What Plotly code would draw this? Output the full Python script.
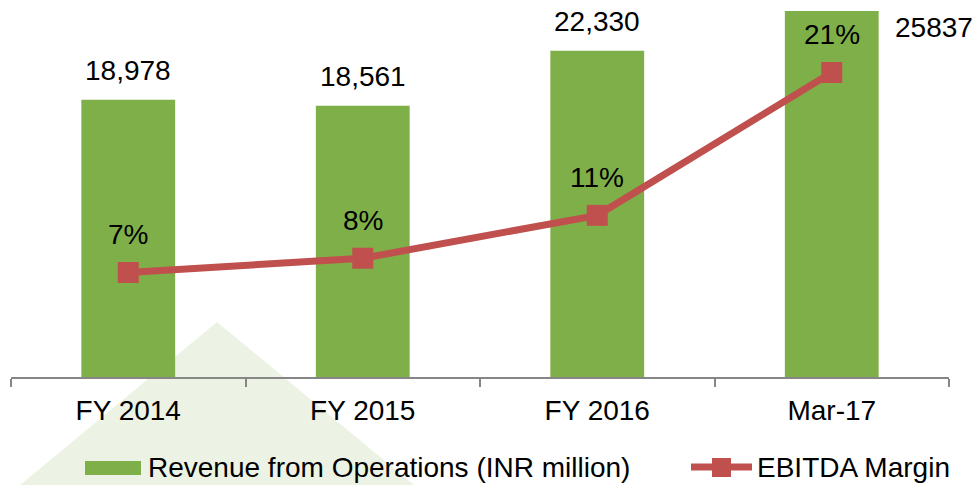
import plotly.graph_objects as go

# ---- data ----
categories = ["FY 2014", "FY 2015", "FY 2016", "Mar-17"]
revenue = [18978, 18561, 22330, 25837]
revenue_labels = ["18,978", "18,561", "22,330", "25837"]
ebitda_margin = [7, 8, 11, 21]
ebitda_labels = ["7%", "8%", "11%", "21%"]
series_names = ["Revenue from Operations (INR million)", "EBITDA Margin"]

# ---- layout geometry (window pixels; page body adds an 8px offset) ----
OFF = 8
WIN_W, WIN_H = 980, 485
W, H = WIN_W - OFF, WIN_H - OFF
PLOT_L, PLOT_R, PLOT_T, PLOT_B = 11, 949, 11, 377  # in window pixels
ML = PLOT_L - OFF
MT = PLOT_T - OFF
MR = W - (PLOT_R - OFF)
MB = H - (PLOT_B - OFF)
PW = PLOT_R - PLOT_L
PH = PLOT_B - PLOT_T


def px(x):
    return (x - PLOT_L) / PW


def py(y):
    return (PLOT_B - y) / PH


GREEN = "#7FAF48"
RED = "#C0504D"
AXIS = "#868686"
FONT = "Liberation Sans, Arial, Helvetica, sans-serif"
FS = 28

fig = go.Figure()
fig.add_trace(go.Bar(
    x=categories, y=revenue, name=series_names[0],
    marker=dict(color=GREEN, line=dict(width=0)),
    width=0.4, yaxis="y", showlegend=False, hoverinfo="x+y",
))
fig.add_trace(go.Scatter(
    x=categories, y=ebitda_margin, name=series_names[1],
    mode="lines+markers",
    line=dict(color=RED, width=7),
    marker=dict(symbol="square", size=21, color=RED, line=dict(width=0)),
    yaxis="y2", showlegend=False,
))

annotations = []
# bar value labels
for i, (c, v, t) in enumerate(zip(categories, revenue, revenue_labels)):
    if i < len(categories) - 1:
        annotations.append(dict(
            x=c, y=v, xref="x", yref="y", text=t, showarrow=False,
            yanchor="middle", xanchor="center", yshift=29,
            font=dict(size=FS, color="black", family=FONT),
        ))
    else:
        annotations.append(dict(
            x=c, y=1, xref="x", yref="paper", text=t, showarrow=False,
            yanchor="middle", xanchor="center", xshift=102, yshift=-16,
            font=dict(size=FS, color="black", family=FONT),
        ))
# margin labels
for c, v, t in zip(categories, ebitda_margin, ebitda_labels):
    annotations.append(dict(
        x=c, y=v, xref="x", yref="y2", text=t, showarrow=False,
        yanchor="middle", xanchor="center", yshift=38,
        font=dict(size=FS, color="black", family=FONT),
    ))
# custom legend texts
annotations.append(dict(
    x=px(146), y=py(467), xref="paper", yref="paper", text=series_names[0],
    showarrow=False, xanchor="left", yanchor="middle",
    font=dict(size=FS, color="black", family=FONT),
))
annotations.append(dict(
    x=px(755), y=py(467), xref="paper", yref="paper", text=series_names[1],
    showarrow=False, xanchor="left", yanchor="middle",
    font=dict(size=FS, color="black", family=FONT),
))

shapes = [
    # faint decorative pyramid watermark
    dict(type="path", xref="paper", yref="paper", layer="below",
         path=f"M {px(20)},{py(485)} L {px(217)},{py(322)} L {px(414)},{py(485)} Z",
         fillcolor="rgba(127,175,72,0.15)", line=dict(width=0)),
    # legend: bar swatch
    dict(type="rect", xref="paper", yref="paper",
         x0=px(85), x1=px(141), y0=py(475), y1=py(461),
         fillcolor=GREEN, line=dict(width=0)),
    # legend: line swatch
    dict(type="line", xref="paper", yref="paper",
         x0=px(691), x1=px(752), y0=py(467), y1=py(467),
         line=dict(color=RED, width=7)),
    dict(type="rect", xref="paper", yref="paper",
         x0=px(712), x1=px(731), y0=py(477), y1=py(458),
         fillcolor=RED, line=dict(width=0)),
]

fig.update_layout(
    width=W, height=H,
    margin=dict(l=ML, r=MR, t=MT, b=MB, pad=0),
    paper_bgcolor="white", plot_bgcolor="rgba(0,0,0,0)",
    font=dict(family=FONT, size=FS, color="black"),
    showlegend=False,
    xaxis=dict(
        type="category", range=[-0.5, 3.5],
        showline=True, linecolor=AXIS, linewidth=2,
        ticks="outside", tickson="boundaries", ticklen=8,
        tickcolor=AXIS, tickwidth=2,
        ticklabelstandoff=7,
        tickfont=dict(size=FS, color="black", family=FONT),
        showgrid=False, zeroline=False,
    ),
    yaxis=dict(range=[0, 25051], visible=False, showgrid=False),
    yaxis2=dict(range=[-0.315, 25.305], overlaying="y", side="right",
                visible=False, showgrid=False),
    annotations=annotations,
    shapes=shapes,
)

fig.write_html("out.html")
